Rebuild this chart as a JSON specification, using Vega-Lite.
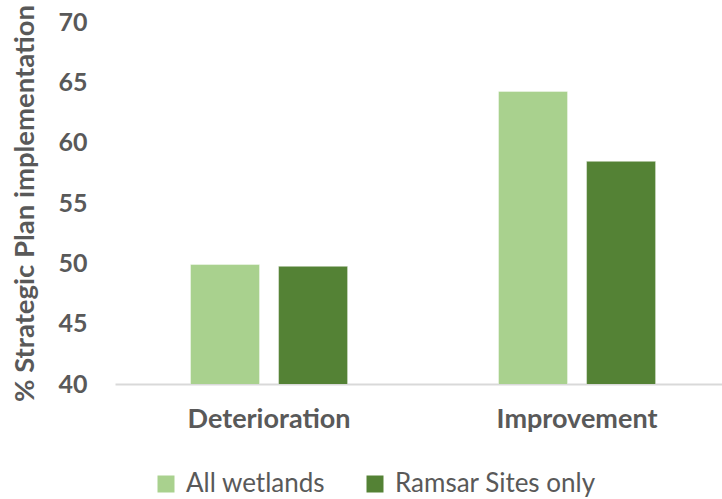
{
  "$schema": "https://vega.github.io/schema/vega-lite/v6.json",
  "width": 607,
  "height": 362,
  "autosize": {"type": "none"},
  "padding": {"left": 115, "top": 22, "right": 0, "bottom": 115},
  "background": "white",
  "config": {
    "view": {"stroke": null},
    "font": "Lato",
    "axis": {"labelColor": "#595959", "titleColor": "#595959"}
  },
  "data": {
    "values": [
      {"change": "Deterioration", "group": "All wetlands", "pct": 49.9},
      {"change": "Deterioration", "group": "Ramsar Sites only", "pct": 49.75},
      {"change": "Improvement", "group": "All wetlands", "pct": 64.25},
      {"change": "Improvement", "group": "Ramsar Sites only", "pct": 58.45}
    ]
  },
  "mark": {"type": "bar", "clip": true, "stroke": "#ffffff", "strokeOpacity": 0.4, "strokeWidth": 1},
  "encoding": {
    "x": {
      "field": "change",
      "type": "nominal",
      "sort": ["Deterioration", "Improvement"],
      "scale": {"paddingInner": 0.49, "paddingOuter": 0.2304, "align": 0.532},
      "axis": {
        "title": null,
        "labelAngle": 0,
        "labelFontSize": 27,
        "labelFontWeight": "bold",
        "labelPadding": 22,
        "ticks": false,
        "domainColor": "#d9d9d9",
        "domainWidth": 2,
        "labelLimit": 400
      }
    },
    "xOffset": {
      "field": "group",
      "type": "nominal",
      "sort": ["All wetlands", "Ramsar Sites only"],
      "scale": {"paddingInner": 0.216, "paddingOuter": 0}
    },
    "y": {
      "field": "pct",
      "type": "quantitative",
      "scale": {"domain": [40, 70], "nice": false, "zero": false},
      "axis": {
        "title": "% Strategic Plan implementation",
        "titleFontSize": 27.5,
        "titleFontWeight": "bold",
        "titlePadding": 18,
        "titleLimit": 600,
        "values": [40, 45, 50, 55, 60, 65, 70],
        "labelFontSize": 25,
        "labelFontWeight": "bold",
        "labelPadding": 28,
        "ticks": false,
        "domain": false,
        "grid": false
      }
    },
    "color": {
      "field": "group",
      "type": "nominal",
      "sort": ["All wetlands", "Ramsar Sites only"],
      "scale": {"domain": ["All wetlands", "Ramsar Sites only"], "range": ["#A9D18E", "#548235"]},
      "legend": {
        "title": null,
        "orient": "none",
        "legendX": 38,
        "legendY": 449,
        "direction": "horizontal",
        "columns": 2,
        "symbolType": "square",
        "symbolSize": 289,
        "symbolStrokeWidth": 0,
        "symbolOpacity": 1,
        "labelFontSize": 26,
        "labelColor": "#595959",
        "labelOffset": 7,
        "labelLimit": 400,
        "columnPadding": 36
      }
    }
  }
}
